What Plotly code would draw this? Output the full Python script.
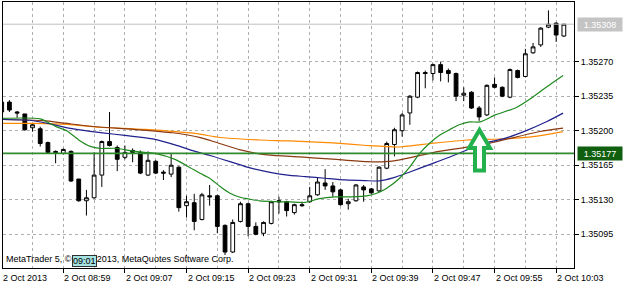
import plotly.graph_objects as go
import pandas as pd

DAY = "2013-10-02"
START = "08:51"

opens = [1.35219, 1.35229, 1.35219, 1.35217, 1.35203, 1.35202, 1.35188, 1.35179, 1.35177, 1.35179,
         1.35151, 1.35129, 1.35132, 1.35155, 1.35189, 1.35183, 1.35173, 1.35180, 1.35178, 1.35155,
         1.35169, 1.35158, 1.35156, 1.35163, 1.35124, 1.35127, 1.35110, 1.35134, 1.35134, 1.35104,
         1.35077, 1.35108, 1.35126, 1.35103, 1.35096, 1.35106, 1.35129, 1.35128, 1.35117, 1.35125,
         1.35128, 1.35135, 1.35147, 1.35144, 1.35140, 1.35126, 1.35129, 1.35143, 1.35141, 1.35139,
         1.35162, 1.35186, 1.35200, 1.35218, 1.35234, 1.35259, 1.35258, 1.35267, 1.35261, 1.35258,
         1.35236, 1.35239, 1.35223, 1.35216, 1.35247, 1.35244, 1.35234, 1.35261, 1.35255, 1.35279,
         1.35287, 1.35305, 1.35309, 1.35296]
highs = [1.35230, 1.35231, 1.35220, 1.35217, 1.35207, 1.35204, 1.35189, 1.35180, 1.35182, 1.35180,
         1.35151, 1.35140, 1.35178, 1.35190, 1.35219, 1.35185, 1.35185, 1.35182, 1.35180, 1.35179,
         1.35170, 1.35160, 1.35177, 1.35164, 1.35134, 1.35136, 1.35137, 1.35145, 1.35135, 1.35105,
         1.35110, 1.35128, 1.35127, 1.35107, 1.35108, 1.35129, 1.35133, 1.35129, 1.35126, 1.35128,
         1.35143, 1.35152, 1.35161, 1.35148, 1.35141, 1.35131, 1.35146, 1.35145, 1.35142, 1.35164,
         1.35189, 1.35203, 1.35218, 1.35236, 1.35260, 1.35261, 1.35268, 1.35270, 1.35263, 1.35259,
         1.35244, 1.35240, 1.35225, 1.35247, 1.35254, 1.35245, 1.35263, 1.35262, 1.35283, 1.35289,
         1.35305, 1.35322, 1.35310, 1.35308]
lows = [1.35218, 1.35219, 1.35213, 1.35200, 1.35199, 1.35184, 1.35177, 1.35167, 1.35176, 1.35148,
        1.35128, 1.35114, 1.35131, 1.35143, 1.35184, 1.35159, 1.35171, 1.35168, 1.35156, 1.35154,
        1.35156, 1.35150, 1.35153, 1.35118, 1.35112, 1.35099, 1.35109, 1.35124, 1.35096, 1.35074,
        1.35076, 1.35107, 1.35093, 1.35094, 1.35093, 1.35105, 1.35116, 1.35113, 1.35115, 1.35123,
        1.35127, 1.35134, 1.35140, 1.35133, 1.35124, 1.35120, 1.35128, 1.35128, 1.35136, 1.35138,
        1.35161, 1.35174, 1.35194, 1.35206, 1.35233, 1.35243, 1.35251, 1.35250, 1.35249, 1.35230,
        1.35230, 1.35222, 1.35210, 1.35215, 1.35243, 1.35234, 1.35233, 1.35253, 1.35254, 1.35278,
        1.35285, 1.35304, 1.35290, 1.35295]
closes = [1.35229, 1.35221, 1.35218, 1.35201, 1.35206, 1.35187, 1.35178, 1.35178, 1.35181, 1.35149,
          1.35129, 1.35132, 1.35155, 1.35189, 1.35185, 1.35171, 1.35178, 1.35178, 1.35157, 1.35170,
          1.35157, 1.35157, 1.35165, 1.35122, 1.35128, 1.35108, 1.35135, 1.35133, 1.35103, 1.35077,
          1.35107, 1.35126, 1.35103, 1.35095, 1.35107, 1.35128, 1.35128, 1.35119, 1.35125, 1.35124,
          1.35134, 1.35148, 1.35144, 1.35138, 1.35125, 1.35128, 1.35145, 1.35140, 1.35137, 1.35163,
          1.35187, 1.35201, 1.35216, 1.35235, 1.35259, 1.35258, 1.35267, 1.35259, 1.35258, 1.35235,
          1.35238, 1.35223, 1.35214, 1.35246, 1.35244, 1.35235, 1.35262, 1.35254, 1.35278, 1.35285,
          1.35304, 1.35308, 1.35297, 1.35308]

# moving averages (time, price)
ma_green_t = ["08:51:00", "08:56:00", "08:58:00", "08:59:30", "09:01:00", "09:02:30", "09:03:48", "09:05:42",
              "09:08:18", "09:10:54", "09:13:30", "09:15:12", "09:16:45", "09:18:00", "09:19:24", "09:20:39",
              "09:21:57", "09:23:15", "09:24:30", "09:26:30", "09:28:24", "09:30:24", "09:32:06", "09:34:18",
              "09:36:30", "09:38:24", "09:39:42", "09:41:00", "09:42:42", "09:44:00", "09:45:18", "09:46:36",
              "09:47:54", "09:49:12", "09:50:30", "09:51:48", "09:53:06", "09:55:06", "09:57:42", "10:00:00",
              "10:02:18", "10:03:54"]
ma_green_v = [1.352125, 1.352120, 1.352043, 1.351998, 1.351907, 1.351841, 1.351820, 1.351822,
              1.351790, 1.351770, 1.351709, 1.351638, 1.351569, 1.351518, 1.351432, 1.351366,
              1.351325, 1.351305, 1.351288, 1.351281, 1.351278, 1.351273, 1.351308, 1.351329,
              1.351329, 1.351339, 1.351366, 1.351417, 1.351521, 1.351633, 1.351772, 1.351876,
              1.351957, 1.352013, 1.352063, 1.352089, 1.352089, 1.352160, 1.352231, 1.352343,
              1.352474, 1.352560]

ma_blue_t = ["08:51:00", "08:54:42", "08:57:18", "08:59:54", "09:02:30", "09:05:42", "09:08:18", "09:10:54",
             "09:13:30", "09:16:06", "09:18:03", "09:20:39", "09:23:15", "09:25:51", "09:28:24", "09:30:24",
             "09:33:00", "09:35:36", "09:38:12", "09:40:06", "09:41:48", "09:44:00", "09:47:00", "09:49:12",
             "09:51:24", "09:53:30", "09:56:06", "09:59:12", "10:01:48", "10:03:54"]
ma_blue_v = [1.352114, 1.352106, 1.352069, 1.352023, 1.351993, 1.351964, 1.351940, 1.351912,
             1.351856, 1.351790, 1.351749, 1.351687, 1.351623, 1.351577, 1.351547, 1.351535,
             1.351518, 1.351501, 1.351494, 1.351491, 1.351521, 1.351582, 1.351669, 1.351734,
             1.351805, 1.351871, 1.351917, 1.352004, 1.352093, 1.352178]

ma_brown_t = ["08:51:00", "08:56:24", "08:59:12", "09:02:30", "09:08:06", "09:13:12", "09:16:48", "09:18:42",
              "09:22:00", "09:25:30", "09:29:42", "09:34:00", "09:38:24", "09:40:48", "09:42:42", "09:47:00",
              "09:51:24", "09:54:24", "10:00:54", "10:03:54"]
ma_brown_v = [1.352114, 1.352102, 1.352076, 1.352045, 1.352014, 1.351979, 1.351930, 1.351886,
              1.351805, 1.351754, 1.351734, 1.351711, 1.351686, 1.351686, 1.351704, 1.351778,
              1.351833, 1.351874, 1.351992, 1.352027]

ma_orange_t = ["08:51:00", "08:55:06", "08:59:30", "09:03:48", "09:09:36", "09:16:06", "09:19:24", "09:24:30",
               "09:28:24", "09:34:00", "09:38:24", "09:42:42", "09:47:00", "09:51:24", "09:55:42", "10:00:00",
               "10:03:54"]
ma_orange_v = [1.352074, 1.352074, 1.352064, 1.352035, 1.352013, 1.351972, 1.351931, 1.351906,
               1.351896, 1.351876, 1.351850, 1.351835, 1.351873, 1.351906, 1.351916, 1.351940,
               1.351991]

LEVEL = 1.35177
BID = 1.35308

y_ticks = [1.35095, 1.35130, 1.35165, 1.35200, 1.35235, 1.35270]
x_tick_times = ["08:51", "08:59", "09:07", "09:15", "09:23", "09:31", "09:39", "09:47", "09:55", "10:03"]
x_tick_text = ["2 Oct 2013", "2 Oct 08:59", "2 Oct 09:07", "2 Oct 09:15", "2 Oct 09:23",
               "2 Oct 09:31", "2 Oct 09:39", "2 Oct 09:47", "2 Oct 09:55", "2 Oct 10:03"]
x_grid_times = ["08:55", "09:03", "09:11", "09:19", "09:27", "09:35", "09:43", "09:51", "09:59", "10:07"]

X_RANGE = ["08:51:10", "10:05:19"]
Y_RANGE = [1.350608, 1.353305]

def ts(s):
    return pd.to_datetime(f"{DAY} {s}")

times = pd.date_range(ts(START), periods=len(opens), freq="1min")

fig = go.Figure()
fig.add_trace(go.Candlestick(
    x=times, open=opens, high=highs, low=lows, close=closes,
    increasing=dict(line=dict(color="black", width=1), fillcolor="white"),
    decreasing=dict(line=dict(color="black", width=1), fillcolor="black"),
    whiskerwidth=0, hoverinfo="skip"))

for t, v, c in [(ma_orange_t, ma_orange_v, "#ff8a00"),
                (ma_brown_t, ma_brown_v, "#8b3a12"),
                (ma_blue_t, ma_blue_v, "#20208e"),
                (ma_green_t, ma_green_v, "#1f8a1f")]:
    fig.add_trace(go.Scatter(x=[ts(s) for s in t], y=v, mode="lines",
                             line=dict(color=c, width=1.2, shape="spline", smoothing=0.6),
                             hoverinfo="skip"))

fig.add_shape(type="line", xref="paper", x0=0, x1=1, yref="y", y0=BID, y1=BID,
              line=dict(color="#c0c0c0", width=1))
fig.add_shape(type="line", xref="paper", x0=0, x1=1, yref="y", y0=LEVEL, y1=LEVEL,
              line=dict(color="#2f8a2f", width=1.6))

# green arrow (pixel geometry of the plot area 3..574 x 2..268)
def px(x):
    return (x - 3) / 571

def py(y):
    return (268 - y) / 266

arrow = [(479.5, 130), (490, 148), (484, 148), (484, 170.5), (475, 170.5), (475, 148), (469, 148)]
path = "M " + " L ".join(f"{px(a):.5f},{py(b):.5f}" for a, b in arrow) + " Z"
fig.add_shape(type="path", xref="paper", yref="paper", path=path,
              line=dict(color="#22b14c", width=4), fillcolor="white")

lab_font = dict(color="black", size=9, family="Liberation Sans")

# x tick labels, left-aligned at their tick like the original
for i, (t, txt) in enumerate(zip(x_tick_times, x_tick_text)):
    if i == 0:
        fig.add_annotation(xref="paper", x=0, xanchor="left", xshift=-2, yref="paper", y=0,
                           yanchor="top", yshift=-3, text=txt, showarrow=False, font=lab_font)
    else:
        fig.add_annotation(xref="x", x=ts(t), xanchor="left", xshift=-1, yref="paper", y=0,
                           yanchor="top", yshift=-3, text=txt, showarrow=False, font=lab_font)

fig.add_annotation(xref="paper", x=1, xanchor="left", xshift=3, yref="y", y=BID,
                   text="1.35308", showarrow=False, bgcolor="#c4c4c4",
                   font=dict(color="white", size=9, family="Liberation Sans"), width=42, height=11)
fig.add_annotation(xref="paper", x=1, xanchor="left", xshift=3, yref="y", y=LEVEL,
                   text="1.35177", showarrow=False, bgcolor="#0f5f0f",
                   font=dict(color="white", size=9, family="Liberation Sans"), width=42, height=11)
fig.add_annotation(xref="paper", x=0, xanchor="left", xshift=1, yref="paper", y=0, yanchor="bottom",
                   yshift=2, text="MetaTrader 5, © 2001-2013, MetaQuotes Software Corp.",
                   showarrow=False, font=lab_font)
fig.add_annotation(xref="paper", x=px(72), xanchor="left", yref="paper", y=py(266.5), yanchor="bottom",
                   text="09:01", showarrow=False, bgcolor="#a6e2e2", bordercolor="#303030",
                   borderwidth=1, borderpad=0, font=lab_font)

grid = dict(showgrid=True, gridcolor="#b0b0b0", gridwidth=1, griddash="3px,3px")

fig.update_layout(
    width=625, height=288,
    margin=dict(l=3, r=51, t=2, b=20),
    paper_bgcolor="white", plot_bgcolor="white",
    showlegend=False,
    font=dict(family="Liberation Sans", size=9, color="black"),
    xaxis=dict(type="date", range=[ts(X_RANGE[0]), ts(X_RANGE[1])],
               tickvals=[ts(s) for s in x_tick_times], showticklabels=False,
               ticks="outside", ticklen=4, tickcolor="black",
               showline=True, linecolor="black", linewidth=1, mirror=True,
               rangeslider=dict(visible=False), zeroline=False,
               minor=dict(tickvals=[ts(s) for s in x_grid_times], ticks="", **grid),
               **grid),
    yaxis=dict(side="right", range=Y_RANGE, tickvals=y_ticks, tickformat=".5f",
               ticks="outside", ticklen=4, tickcolor="black",
               showline=True, linecolor="black", linewidth=1, mirror=True,
               zeroline=False, **grid),
)

fig.write_html("out.html")
